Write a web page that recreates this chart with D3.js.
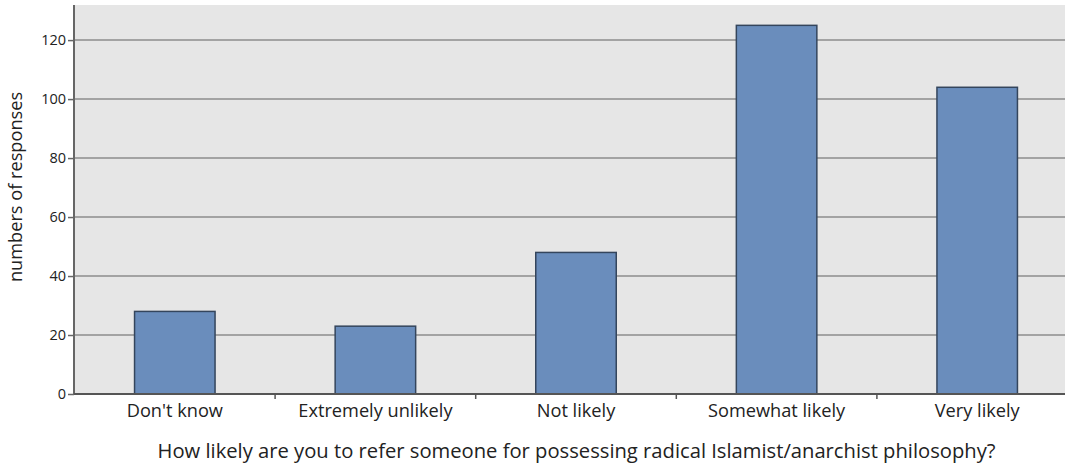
<!DOCTYPE html>
<html><head><meta charset="utf-8">
<script src="https://cdn.jsdelivr.net/npm/d3@7"></script>
<style>body{margin:0;background:#fff}svg{display:block}text{font-family:"Open Sans",sans-serif;fill:#222}</style>
</head><body><svg id="c" width="1065" height="468"></svg>
<script>
const categories = ["Don't know","Extremely unlikely","Not likely","Somewhat likely","Very likely"];
const values = [28,23,48,125,104];
const yTicks = [0,20,40,60,80,100,120];
const xTitle = "How likely are you to refer someone for possessing radical Islamist/anarchist philosophy?";
const yTitle = "numbers of responses";

const svg = d3.select("#c");
const L=74, R=1064, T=5, B=394;
const x = d3.scaleBand().domain(categories).range([L+0.5,1077.5]).padding(0);
const y = d3.scaleLinear().domain([0,131.9]).range([B,T]);

svg.append("rect").attr("x",L).attr("y",T).attr("width",R-L+2).attr("height",B-T).attr("fill","#e6e6e6");
svg.append("g").selectAll("line").data(yTicks.filter(d=>d>0)).join("line")
  .attr("x1",L).attr("x2",R+2).attr("y1",d=>y(d)).attr("y2",d=>y(d))
  .attr("stroke","#a3a3a3").attr("stroke-width",2);

const bw = 80.5;
svg.append("g").selectAll("rect").data(values).join("rect")
  .attr("x",(d,i)=>x(categories[i])+x.bandwidth()/2-bw/2)
  .attr("y",d=>y(d)).attr("width",bw).attr("height",d=>B-y(d))
  .attr("fill","#6a8dbc").attr("stroke","#34455c").attr("stroke-width",1.5);

// y axis
const ya = svg.append("g").attr("transform",`translate(${L},0)`)
  .call(d3.axisLeft(y).tickValues(yTicks).tickSize(6).tickPadding(2));
ya.select(".domain").attr("d",`M0,${T}V${B}`).attr("stroke","#666").attr("stroke-width",2);
ya.selectAll(".tick line").attr("stroke","#666").attr("stroke-width",1.5);
ya.selectAll(".tick text").attr("font-size",14.5).attr("fill","#333").style("font-family","'Open Sans',sans-serif");

// x axis
const xa = svg.append("g").attr("transform",`translate(0,${B})`)
  .call(d3.axisBottom(x).tickSize(0).tickPadding(10));
xa.select(".domain").attr("d",`M${L},0H${R+2}`).attr("stroke","#555").attr("stroke-width",2);
xa.selectAll(".tick text").attr("font-size",18.2).attr("fill","#222").style("font-family","'Open Sans',sans-serif");
svg.append("g").selectAll("line").data(categories.slice(1)).join("line")
  .attr("x1",d=>x(d)).attr("x2",d=>x(d)).attr("y1",B).attr("y2",B+5)
  .attr("stroke","#555").attr("stroke-width",1.5);

svg.append("text").attr("x",576.5).attr("y",458).attr("text-anchor","middle")
  .attr("font-size",20.2).text(xTitle);
svg.append("text").attr("transform",`translate(22,${187}) rotate(-90)`).attr("text-anchor","middle")
  .attr("font-size",18.2).text(yTitle);
</script></body></html>
